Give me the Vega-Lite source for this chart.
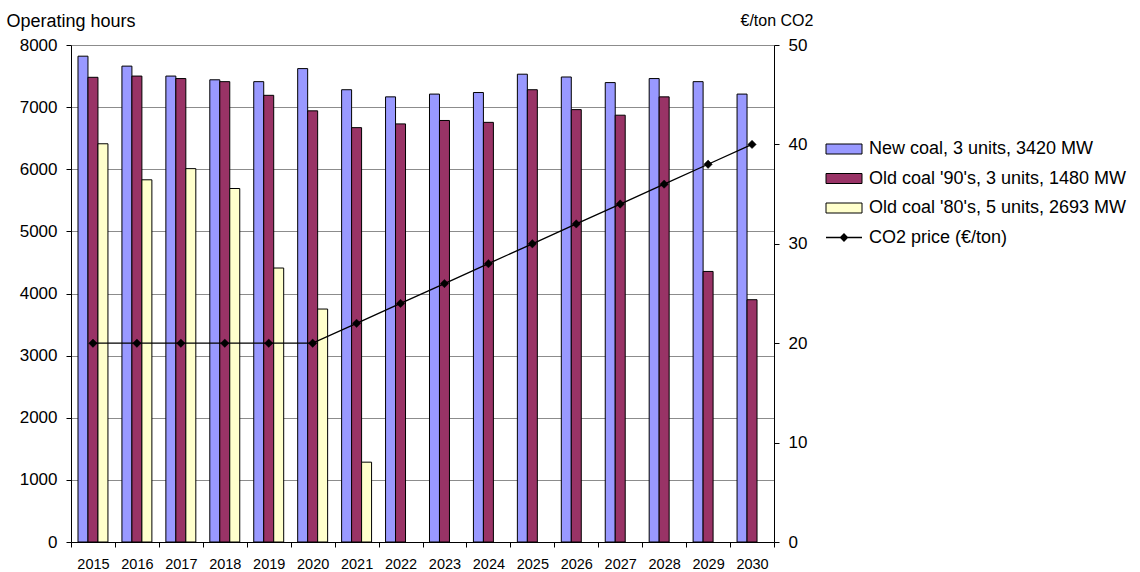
{
  "$schema": "https://vega.github.io/schema/vega-lite/v6.json",
  "width": 703,
  "height": 497,
  "autosize": {"type": "none"},
  "padding": {"left": 71, "top": 45, "right": 366, "bottom": 30},
  "background": "white",
  "config": {
    "font": "Liberation Sans",
    "view": {"stroke": null},
    "axis": {
      "labelFont": "Liberation Sans",
      "titleFont": "Liberation Sans",
      "labelColor": "black",
      "titleColor": "black",
      "domainColor": "black",
      "tickColor": "black",
      "titleFontWeight": "normal"
    },
    "legend": {
      "labelFont": "Liberation Sans",
      "labelColor": "black",
      "labelFontSize": 18,
      "labelLimit": 400
    }
  },
  "datasets": {
    "hours": [
      {"year": 2015, "series": "New coal, 3 units, 3420 MW", "hours": 7820},
      {"year": 2015, "series": "Old coal '90's, 3 units, 1480 MW", "hours": 7480},
      {"year": 2015, "series": "Old coal '80's, 5 units, 2693 MW", "hours": 6410},
      {"year": 2016, "series": "New coal, 3 units, 3420 MW", "hours": 7660},
      {"year": 2016, "series": "Old coal '90's, 3 units, 1480 MW", "hours": 7500},
      {"year": 2016, "series": "Old coal '80's, 5 units, 2693 MW", "hours": 5830},
      {"year": 2017, "series": "New coal, 3 units, 3420 MW", "hours": 7500},
      {"year": 2017, "series": "Old coal '90's, 3 units, 1480 MW", "hours": 7460},
      {"year": 2017, "series": "Old coal '80's, 5 units, 2693 MW", "hours": 6010},
      {"year": 2018, "series": "New coal, 3 units, 3420 MW", "hours": 7440},
      {"year": 2018, "series": "Old coal '90's, 3 units, 1480 MW", "hours": 7410},
      {"year": 2018, "series": "Old coal '80's, 5 units, 2693 MW", "hours": 5690},
      {"year": 2019, "series": "New coal, 3 units, 3420 MW", "hours": 7410},
      {"year": 2019, "series": "Old coal '90's, 3 units, 1480 MW", "hours": 7190},
      {"year": 2019, "series": "Old coal '80's, 5 units, 2693 MW", "hours": 4410},
      {"year": 2020, "series": "New coal, 3 units, 3420 MW", "hours": 7620},
      {"year": 2020, "series": "Old coal '90's, 3 units, 1480 MW", "hours": 6940},
      {"year": 2020, "series": "Old coal '80's, 5 units, 2693 MW", "hours": 3750},
      {"year": 2021, "series": "New coal, 3 units, 3420 MW", "hours": 7280},
      {"year": 2021, "series": "Old coal '90's, 3 units, 1480 MW", "hours": 6670},
      {"year": 2021, "series": "Old coal '80's, 5 units, 2693 MW", "hours": 1285},
      {"year": 2022, "series": "New coal, 3 units, 3420 MW", "hours": 7165},
      {"year": 2022, "series": "Old coal '90's, 3 units, 1480 MW", "hours": 6730},
      {"year": 2023, "series": "New coal, 3 units, 3420 MW", "hours": 7210},
      {"year": 2023, "series": "Old coal '90's, 3 units, 1480 MW", "hours": 6785},
      {"year": 2024, "series": "New coal, 3 units, 3420 MW", "hours": 7235},
      {"year": 2024, "series": "Old coal '90's, 3 units, 1480 MW", "hours": 6755},
      {"year": 2025, "series": "New coal, 3 units, 3420 MW", "hours": 7530},
      {"year": 2025, "series": "Old coal '90's, 3 units, 1480 MW", "hours": 7280},
      {"year": 2026, "series": "New coal, 3 units, 3420 MW", "hours": 7485},
      {"year": 2026, "series": "Old coal '90's, 3 units, 1480 MW", "hours": 6960},
      {"year": 2027, "series": "New coal, 3 units, 3420 MW", "hours": 7395},
      {"year": 2027, "series": "Old coal '90's, 3 units, 1480 MW", "hours": 6870},
      {"year": 2028, "series": "New coal, 3 units, 3420 MW", "hours": 7460},
      {"year": 2028, "series": "Old coal '90's, 3 units, 1480 MW", "hours": 7165},
      {"year": 2029, "series": "New coal, 3 units, 3420 MW", "hours": 7410},
      {"year": 2029, "series": "Old coal '90's, 3 units, 1480 MW", "hours": 4355},
      {"year": 2030, "series": "New coal, 3 units, 3420 MW", "hours": 7210},
      {"year": 2030, "series": "Old coal '90's, 3 units, 1480 MW", "hours": 3900}
    ],
    "co2": [
      {"year": 2015, "price": 20},
      {"year": 2016, "price": 20},
      {"year": 2017, "price": 20},
      {"year": 2018, "price": 20},
      {"year": 2019, "price": 20},
      {"year": 2020, "price": 20},
      {"year": 2021, "price": 22},
      {"year": 2022, "price": 24},
      {"year": 2023, "price": 26},
      {"year": 2024, "price": 28},
      {"year": 2025, "price": 30},
      {"year": 2026, "price": 32},
      {"year": 2027, "price": 34},
      {"year": 2028, "price": 36},
      {"year": 2029, "price": 38},
      {"year": 2030, "price": 40}
    ]
  },
  "layer": [
    {
      "data": {"name": "hours"},
      "mark": {"type": "bar", "stroke": "black", "strokeWidth": 1},
      "encoding": {
        "x": {
          "field": "year",
          "type": "ordinal",
          "scale": {"paddingInner": 0, "paddingOuter": 0},
          "axis": {
            "title": null,
            "labelAngle": 0,
            "labelFontSize": 14.5,
            "labelPadding": 10,
            "tickBand": "extent",
            "tickSize": 5,
            "grid": false
          }
        },
        "xOffset": {
          "field": "series",
          "type": "nominal",
          "sort": ["New coal, 3 units, 3420 MW", "Old coal '90's, 3 units, 1480 MW", "Old coal '80's, 5 units, 2693 MW"],
          "scale": {"paddingInner": 0, "paddingOuter": 0.7}
        },
        "y": {
          "field": "hours",
          "type": "quantitative",
          "scale": {"domain": [0, 8000]},
          "axis": {
            "values": [0, 1000, 2000, 3000, 4000, 5000, 6000, 7000, 8000],
            "format": "d",
            "labelFontSize": 17,
            "labelPadding": 9,
            "tickSize": 5,
            "grid": true,
            "gridColor": "#8c8c8c",
            "gridWidth": 1,
            "title": "Operating hours",
            "titleFontSize": 18,
            "titleAngle": 0,
            "titleAlign": "left",
            "titleBaseline": "alphabetic",
            "titleX": -65,
            "titleY": -19
          }
        },
        "color": {
          "field": "series",
          "type": "nominal",
          "scale": {
            "domain": ["New coal, 3 units, 3420 MW", "Old coal '90's, 3 units, 1480 MW", "Old coal '80's, 5 units, 2693 MW"],
            "range": ["#9999ff", "#993366", "#ffffcc"]
          },
          "legend": {
            "title": null,
            "orient": "none",
            "legendX": 764,
            "legendY": 95,
            "symbolType": "M-3.6,-1H3.6V1H-3.6Z",
            "symbolSize": 100,
            "symbolStrokeColor": "black",
            "symbolStrokeWidth": 1,
            "symbolOpacity": 1,
            "labelOffset": 16,
            "rowPadding": 11.5,
            "padding": 0
          }
        }
      }
    },
    {
      "data": {"name": "co2"},
      "mark": {
        "type": "line",
        "strokeWidth": 1.3,
        "point": {"shape": "diamond", "filled": true, "size": 70, "fill": "black", "stroke": "black", "strokeWidth": 0.5}
      },
      "encoding": {
        "x": {"field": "year", "type": "ordinal"},
        "y": {
          "field": "price",
          "type": "quantitative",
          "scale": {"domain": [0, 50]},
          "axis": {
            "orient": "right",
            "values": [0, 10, 20, 30, 40, 50],
            "labelFontSize": 17,
            "labelPadding": 9,
            "tickSize": 5,
            "grid": false,
            "title": "€/ton CO2",
            "titleFontSize": 16,
            "titleAngle": 0,
            "titleAlign": "left",
            "titleBaseline": "alphabetic",
            "titleX": -34,
            "titleY": -20
          }
        },
        "stroke": {
          "datum": "CO2 price (€/ton)",
          "type": "nominal",
          "scale": {"range": ["black"]},
          "legend": {
            "title": null,
            "orient": "none",
            "legendX": 764,
            "legendY": 183.5,
            "symbolType": "M-3.6,0H3.6M-0.7,0L0,-0.7L0.7,0L0,0.7Z",
            "symbolSize": 100,
            "symbolFillColor": "black",
            "symbolStrokeWidth": 1.3,
            "labelOffset": 16,
            "padding": 0
          }
        }
      }
    }
  ],
  "resolve": {"scale": {"y": "independent"}}
}
